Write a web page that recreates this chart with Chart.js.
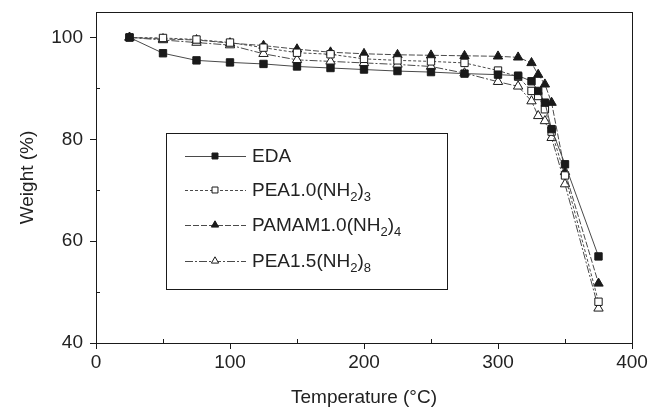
<!DOCTYPE html>
<html>
<head>
<meta charset="utf-8">
<script src="https://cdn.jsdelivr.net/npm/chart.js@4.4.1/dist/chart.umd.min.js"></script>
<style>
html,body{margin:0;padding:0;background:#fff;}
canvas{display:block;}
</style>
</head>
<body>
<canvas id="c" width="652" height="415"></canvas>
<script>
const temps = [25,50,75,100,125,150,175,200,225,250,275,300,315,325,330,335,340,350,375];
const edaVals   = [100,96.9,95.5,95.1,94.8,94.3,94.0,93.7,93.4,93.2,92.9,92.7,92.5,91.4,89.5,87.2,82.0,75.1,57.0];
const pea10Vals = [100,99.9,99.6,99.0,98.0,97.0,96.7,95.8,95.5,95.3,95.0,93.5,92.3,89.5,88.5,85.9,81.5,72.9,48.1];
const pamamVals = [100,99.7,99.5,98.9,98.4,97.7,97.1,96.8,96.6,96.5,96.4,96.3,96.1,95.0,92.7,90.8,87.2,73.6,51.7];
const pea15Vals = [100,99.5,99.0,98.5,96.8,95.6,95.3,95.0,94.7,94.3,93.0,91.3,90.4,87.5,84.6,83.6,80.3,71.2,46.8];
const seriesNames = ['EDA','PEA1.0(NH2)3','PAMAM1.0(NH2)4','PEA1.5(NH2)8'];
const xTicks = [0,100,200,300,400];
const yTicks = [40,50,60,70,80,90,100];

const toPts = vals => temps.map((t,i)=>({x:t,y:vals[i]}));
const ink = '#1a1a1a';

function ds(label, vals, style, filled, dash){
  return {
    label, data: toPts(vals),
    borderColor: '#4a4a4a', borderWidth: 1, borderDash: dash,
    pointStyle: style, pointRadius: style==='rect'?5.2:5.4, pointHoverRadius: 5,
    pointBackgroundColor: filled ? ink : '#fff',
    pointBorderColor: ink, pointBorderWidth: 1,
    fill: false, tension: 0
  };
}

const frame = {
  id:'frame',
  afterDraw(chart){
    const {ctx, chartArea:a, scales} = chart;
    ctx.save();
    ctx.strokeStyle = ink; ctx.lineWidth = 1;
    ctx.strokeRect(a.left+0.5, a.top+0.5, a.right-a.left, a.bottom-a.top);
    // minor ticks inward
    ctx.beginPath();
    [50,150,250,350].forEach(v=>{
      const x = Math.round(scales.x.getPixelForValue(v))+0.5;
      ctx.moveTo(x, a.bottom); ctx.lineTo(x, a.bottom-4);
    });
    [50,70,90].forEach(v=>{
      const y = Math.round(scales.y.getPixelForValue(v))+0.5;
      ctx.moveTo(a.left, y); ctx.lineTo(a.left+4, y);
    });
    ctx.stroke();
    // legend
    const L = a.left + 70, T = a.top + 121, R = a.left + 351, B = a.top + 277;
    ctx.strokeRect(L+0.5, T+0.5, R-L, B-T);
    const rows = [23, 57, 92, 128];
    chart.data.datasets.forEach((d,i)=>{
      const y = T + rows[i];
      ctx.save();
      ctx.strokeStyle = d.borderColor; ctx.lineWidth = 1;
      ctx.setLineDash(d.borderDash || []);
      ctx.beginPath(); ctx.moveTo(L+19, y+0.5); ctx.lineTo(L+80, y+0.5); ctx.stroke();
      ctx.restore();
      ctx.save();
      ctx.fillStyle = d.pointBackgroundColor; ctx.strokeStyle = d.pointBorderColor; ctx.lineWidth = 1;
      Chart.helpers.drawPoint(ctx, {pointStyle:d.pointStyle, radius:4.2, rotation:0, borderWidth:1}, L+49, y);
      ctx.restore();
      // label with subscripts
      const name = seriesNames[i];
      const parts = name.match(/^(.*?\(NH)(\d)(\))(\d)$/);
      ctx.fillStyle = '#222';
      ctx.textBaseline = 'middle';
      let x = L + 86;
      const big = '19px "Liberation Sans", Arial, sans-serif';
      const small = '13px "Liberation Sans", Arial, sans-serif';
      if(!parts){
        ctx.font = big; ctx.fillText(name, x, y+1);
      } else {
        const seq = [[parts[1],big,0],[parts[2],small,6],[parts[3],big,0],[parts[4],small,6]];
        seq.forEach(([s,f,dy])=>{ ctx.font=f; ctx.fillText(s,x,y+1+dy); x += ctx.measureText(s).width; });
      }
    });
    ctx.restore();
  }
};

new Chart(document.getElementById('c'), {
  type:'line',
  data:{ datasets:[
    ds(seriesNames[0], edaVals, 'rect', true, []),
    ds(seriesNames[1], pea10Vals, 'rect', false, [3,2]),
    ds(seriesNames[2], pamamVals, 'triangle', true, [6,2]),
    ds(seriesNames[3], pea15Vals, 'triangle', false, [8,2,2,2])
  ]},
  options:{
    responsive:false, animation:false, devicePixelRatio:1,
    layout:{padding:{left:0,right:20,top:12,bottom:0}},
    plugins:{legend:{display:false}, tooltip:{enabled:false}},
    scales:{
      x:{
        type:'linear', min:0, max:400,
        afterBuildTicks: s => { s.ticks = xTicks.map(v=>({value:v})); },
        afterFit: s => { s.height = 72; s.paddingLeft = 0; s.paddingRight = 0; },
        grid:{drawOnChartArea:false, tickLength:6, color:ink, tickColor:ink},
        border:{display:true, color:ink},
        ticks:{color:'#222', padding:2, maxRotation:0, font:{family:'"Liberation Sans", Arial, sans-serif', size:19}},
        title:{display:true, text:'Temperature (°C)', color:'#222', padding:{top:0,bottom:6}, font:{family:'"Liberation Sans", Arial, sans-serif', size:19}}
      },
      y:{
        min:40, max:105,
        afterBuildTicks: s => { s.ticks = yTicks.map(v=>({value:v})); },
        afterFit: s => { s.width = 96; s.paddingTop = 0; s.paddingBottom = 0; },
        grid:{drawOnChartArea:false, tickLength:6, color:ink, tickColor: c => (c.tick && c.tick.value%20===0) ? ink : 'rgba(0,0,0,0)'},
        border:{display:true, color:ink},
        ticks:{color:'#222', padding:7, callback: v => v%20===0 ? v : '', font:{family:'"Liberation Sans", Arial, sans-serif', size:19}},
        title:{display:true, text:'Weight (%)', color:'#222', padding:{top:16,bottom:0}, font:{family:'"Liberation Sans", Arial, sans-serif', size:19}}
      }
    }
  },
  plugins:[frame]
});
</script>
</body>
</html>
